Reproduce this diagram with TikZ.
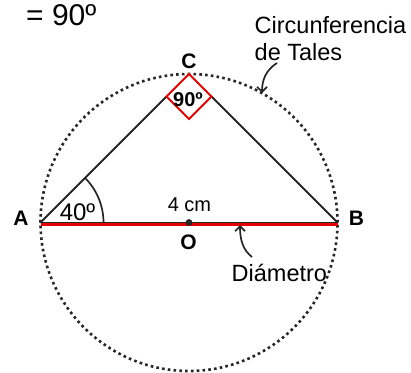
\documentclass[tikz,border=0pt]{standalone}
\usepackage{fontspec}
\setmainfont{Liberation Sans}
\usetikzlibrary{arrows.meta}
\begin{document}
\begin{tikzpicture}[x=1pt,y=1pt,
  lbl/.style={inner sep=0pt,anchor=base},
  bigtxt/.style={lbl,font=\fontsize{23.5}{28}\selectfont},
  vtx/.style={lbl,font=\fontsize{21}{25}\selectfont\bfseries},
  tri/.style={line width=1.9pt,black!85},
  callout/.style={line width=1.7pt,black!85,-{Straight Barb[length=5pt,width=10pt,line width=1.7pt]}}]
\useasboundingbox (0,0) rectangle (411,-372);
% geometry
\coordinate (O) at (189,-222.5);
\coordinate (A) at (40.5,-222.5);
\coordinate (B) at (337.5,-222.5);
\coordinate (Ct) at (189,-74);
\coordinate (Cl) at (166.5,-96.5);
\coordinate (Cb) at (189,-119);
\coordinate (Cr) at (211.5,-96.5);
% dotted circle
\draw[line width=2.6pt,black!85,dash pattern=on 2.6pt off 3.2pt] (O) circle[radius=148.5];
% triangle sides
\draw[tri] (A) -- (Cl);
\draw[tri] (B) -- (Cr);
\draw[tri] (A) -- (B);
% red diameter
\draw[line width=3pt,red!90!black] (40.5,-224.6) coordinate (Ar) -- (338,-224.6) coordinate (Br);
% red right-angle square
\draw[line width=1.9pt,red!90!black,line join=miter] (Ct) -- (Cl) -- (Cb) -- (Cr) -- cycle;
% angle arc at A
\draw[tri,line width=1.7pt] ([shift={(63,0)}]A) arc[start angle=0,end angle=45,radius=63];
% centre dot
\fill[black!85] (O) circle[radius=3.4];
% labels
\node[lbl,anchor=base west,font=\fontsize{30}{34}\selectfont] (eq) at (26,-25) {= 90º};
\node[bigtxt,anchor=base west] (circ1) at (254.5,-33.3) {Circunferencia};
\node[bigtxt,anchor=base west] (circ2) at (254.5,-60) {de Tales};
\node[bigtxt,anchor=base west] (diam) at (231.5,-281.7) {Diámetro};
\node[vtx] (lC) at (189,-68.3) {C};
\node[vtx] (lA) at (21,-225) {A};
\node[vtx] (lB) at (356.5,-225) {B};
\node[vtx] (lO) at (188.5,-249) {O};
\node[lbl,font=\fontsize{20}{24}\selectfont\bfseries] (l90) at (188,-106.5) {90º};
\node[lbl,font=\fontsize{20}{24}\selectfont] (l4) at (189.5,-211.7) {4 cm};
\node[lbl,font=\fontsize{24}{28}\selectfont] (l40) at (77.5,-220) {40º};
% callout arrows
\coordinate (t1) at (277,-63);
\coordinate (t2) at (262,-93);
\draw[callout] (t1) .. controls (266,-70) and (262,-80) .. (t2);
\coordinate (d1) at (252,-257);
\coordinate (d2) at (240,-225);
\draw[callout] (d1) .. controls (243,-250) and (240,-240) .. (d2);
\end{tikzpicture}
\end{document}
